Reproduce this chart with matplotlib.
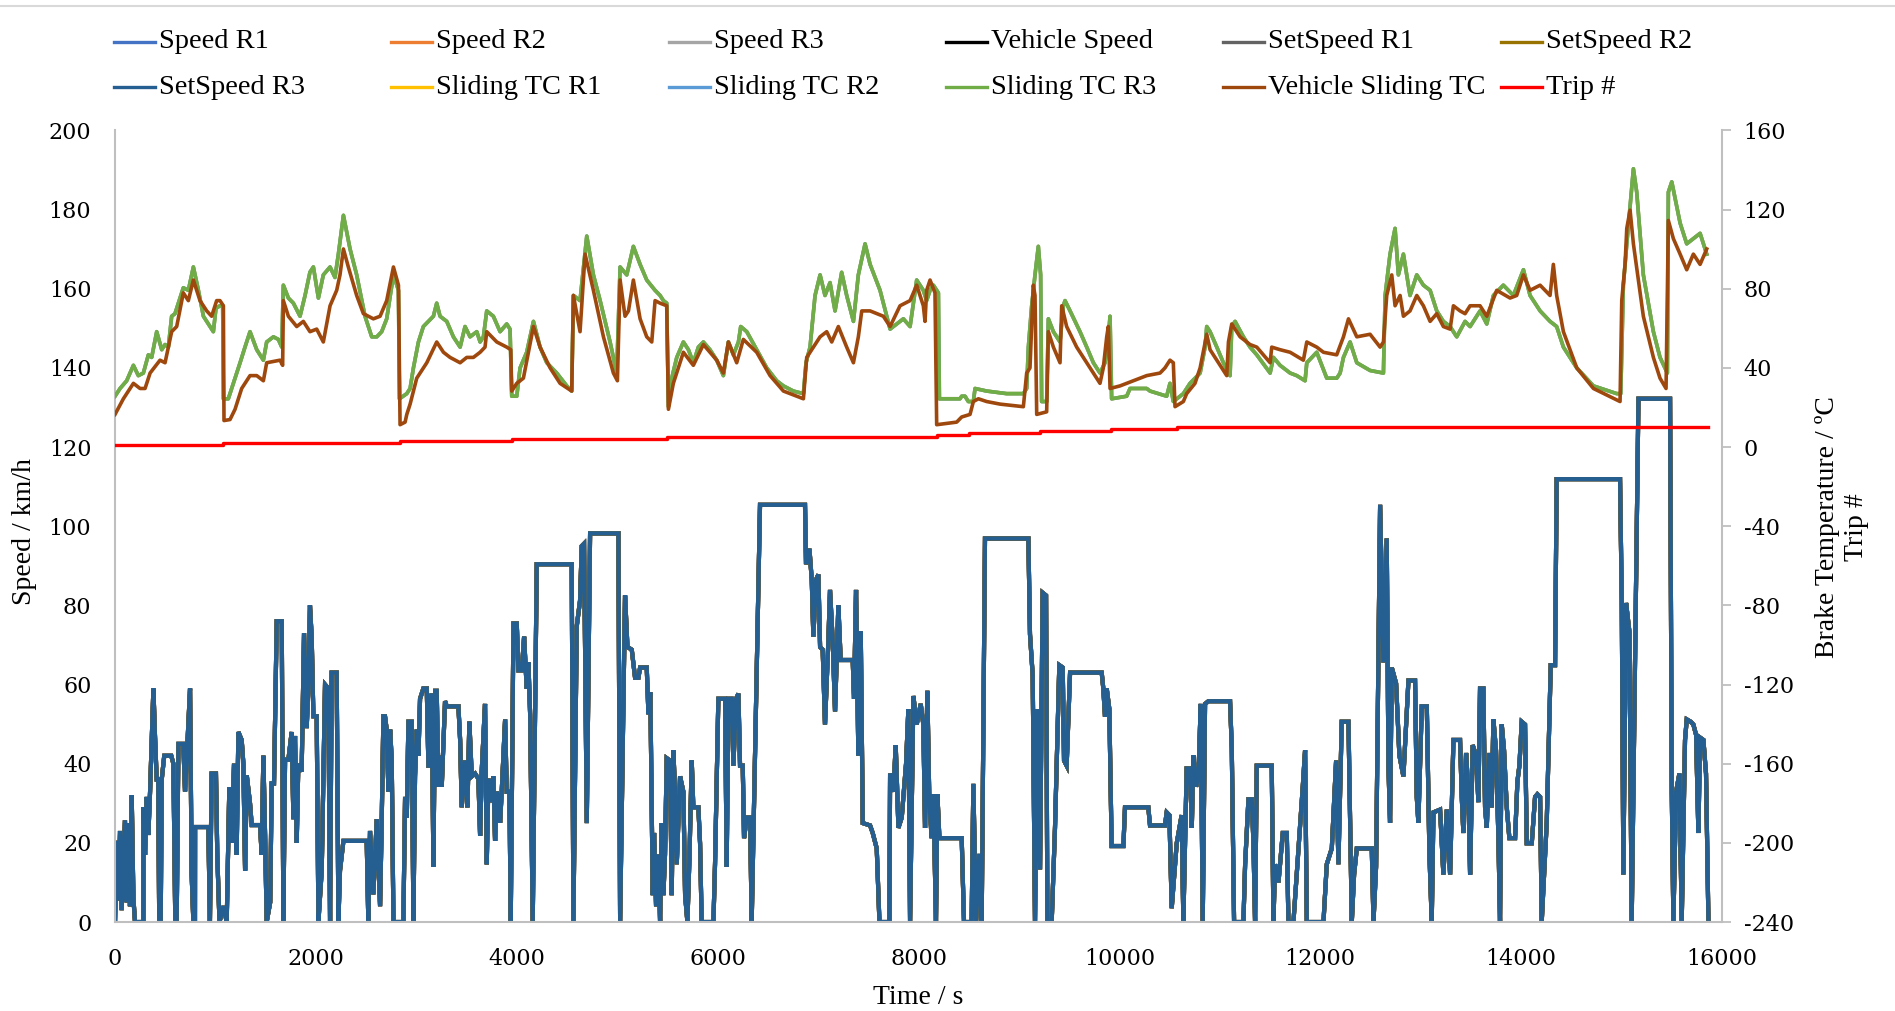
import matplotlib
matplotlib.use('Agg')
import matplotlib.pyplot as plt
from matplotlib.lines import Line2D

plt.rcParams['axes.unicode_minus'] = False

# speed trace (t in s, v in km/h) - all speed / set speed series lie on top of each other
speed_profile = [
    (0, 0), (17, 20.5), (33, 5.5), (50, 23), (66, 3), (99, 25.7), (116, 5), (133, 25), (149, 4), (166, 32),
    (183, 6), (199, 0), (282, 0), (283, 29), (299, 17), (315, 31.6), (332, 22), (349, 33), (382, 59), (398, 47),
    (415, 36), (430, 36), (440, 0), (455, 0), (465, 36), (490, 42), (560, 42), (581, 40), (600, 0), (614, 0),
    (631, 45), (680, 45), (697, 33), (713, 41), (747, 59), (763, 12), (780, 0), (796, 0), (797, 24), (929, 24),
    (945, 0), (962, 37.5), (1005, 37.5), (1018, 17), (1040, 0), (1080, 4), (1112, 0), (1138, 34), (1160, 20),
    (1185, 40), (1211, 17), (1228, 48), (1261, 46), (1278, 40), (1295, 13), (1312, 37), (1344, 30), (1361, 24.5),
    (1444, 24.5), (1460, 17), (1477, 42), (1494, 22), (1510, 0), (1545, 5), (1560, 35), (1583, 35), (1610, 76),
    (1660, 76), (1676, 0), (1693, 41), (1726, 41), (1759, 48), (1776, 26), (1792, 47), (1809, 20), (1825, 40),
    (1858, 38), (1882, 73), (1908, 49), (1925, 59), (1941, 80), (1958, 72), (1975, 52), (2008, 52), (2025, 0),
    (2058, 13), (2091, 60), (2124, 59), (2141, 0), (2157, 63), (2207, 63), (2224, 0), (2240, 13), (2274, 20.5),
    (2506, 20.5), (2522, 0), (2539, 23), (2572, 7), (2606, 26), (2639, 4), (2655, 25), (2672, 52), (2688, 52),
    (2705, 48.6), (2722, 33), (2739, 48.6), (2755, 41), (2772, 0), (2871, 0), (2888, 31.6), (2905, 26.4),
    (2921, 50.6), (2954, 50.6), (2971, 0), (2987, 36.8), (3004, 48.6), (3021, 42), (3037, 56.4), (3070, 59),
    (3104, 59), (3120, 39.5), (3137, 39.5), (3153, 57.7), (3170, 14), (3187, 58.4), (3203, 58.4), (3220, 34.2),
    (3236, 42), (3253, 34.2), (3286, 55.8), (3303, 54.5), (3419, 54.5), (3436, 46), (3452, 29), (3485, 40.8),
    (3509, 29), (3528, 50.6), (3552, 36.8), (3585, 37.5), (3618, 36.2), (3635, 21.8), (3651, 38.1), (3684, 55.1),
    (3701, 14.6), (3718, 36.2), (3734, 30.3), (3767, 36.8), (3784, 20.5), (3801, 32.9), (3817, 31.6), (3834, 25.1),
    (3850, 32.9), (3884, 51.2), (3900, 32.9), (3927, 32.9), (3940, 0), (3967, 75.4), (4000, 75.4), (4016, 63.6),
    (4050, 63.6), (4073, 72.1), (4099, 59), (4116, 65.6), (4133, 52.5), (4159, 0), (4199, 90.4), (4547, 90.4),
    (4564, 0), (4597, 74.7), (4630, 81.2), (4647, 95), (4670, 95.6), (4697, 25), (4730, 98.2), (5012, 98.2),
    (5029, 0), (5078, 82.5), (5102, 69.5), (5145, 68.8), (5178, 61.7), (5211, 61.7), (5228, 64.3), (5294, 64.3),
    (5311, 52.5), (5330, 58), (5354, 6.8), (5367, 22.5), (5387, 4), (5410, 17), (5427, 0), (5443, 25),
    (5460, 6.8), (5476, 17), (5493, 41.4), (5526, 40.8), (5543, 6.8), (5559, 43.4), (5576, 32.9), (5593, 14.6),
    (5626, 36.8), (5659, 32.9), (5676, 6.8), (5699, 0), (5719, 15.9), (5742, 40.8), (5758, 29), (5808, 29),
    (5825, 19.9), (5841, 0), (5958, 0), (5974, 14.6), (6007, 56.4), (6074, 56.4), (6090, 14), (6107, 56.4),
    (6140, 56.4), (6157, 39.5), (6183, 56.4), (6207, 57.7), (6223, 39.5), (6250, 39.5), (6263, 21.2), (6290, 26.4),
    (6323, 26.4), (6339, 0), (6422, 105.4), (6870, 105.4), (6880, 90.4), (6914, 94.3), (6937, 86.5), (6953, 72.1),
    (6980, 86.5), (7003, 87.8), (7020, 69.5), (7046, 68.8), (7069, 49.9), (7103, 71.4), (7119, 83.9), (7146, 70.8),
    (7169, 53.2), (7202, 80), (7225, 66.2), (7345, 66.2), (7358, 56.4), (7378, 83.9), (7401, 42.1), (7425, 73.4),
    (7445, 25), (7518, 24.4), (7544, 22.5), (7584, 18.6), (7611, 0), (7710, 0), (7717, 37.5), (7750, 32.9),
    (7773, 44.7), (7800, 23.8), (7833, 26.4), (7876, 40), (7899, 53.8), (7916, 0), (7949, 57.1), (7982, 49.9),
    (8022, 55.1), (8048, 49.9), (8065, 23.8), (8088, 58.4), (8108, 30.3), (8131, 21.2), (8148, 32.3), (8174, 0),
    (8188, 32.3), (8208, 21.2), (8430, 21.2), (8453, 0), (8529, 0), (8546, 34.9), (8573, 0), (8606, 17.2),
    (8629, 0), (8662, 96.9), (9094, 96.9), (9110, 72.7), (9137, 62.3), (9160, 0), (9183, 53.8), (9210, 13.3),
    (9236, 83.2), (9270, 82.5), (9283, 0), (9326, 0), (9359, 23.8), (9382, 46), (9402, 64.9), (9436, 64.3),
    (9449, 40.8), (9475, 39.5), (9509, 63), (9824, 63), (9840, 59), (9857, 51.9), (9874, 59), (9900, 53.8),
    (9923, 19.2), (10040, 19.2), (10056, 29), (10288, 29), (10305, 24.4), (10454, 24.4), (10471, 27.7),
    (10498, 27), (10521, 3.5), (10571, 19.9), (10620, 27), (10637, 0), (10670, 38.8), (10704, 38.8),
    (10721, 23.8), (10737, 42.1), (10764, 34.2), (10787, 36.8), (10810, 55.1), (10830, 0), (10853, 55.1),
    (10887, 55.8), (11102, 55.8), (11119, 44), (11142, 0), (11235, 0), (11252, 14.6), (11285, 31), (11318, 31),
    (11335, 19.9), (11351, 0), (11368, 39.5), (11517, 39.5), (11534, 0), (11550, 14.6), (11584, 10),
    (11627, 22.5), (11667, 22.5), (11683, 0), (11733, 0), (11826, 34.2), (11849, 43.4), (11866, 0), (12032, 0),
    (12065, 14.6), (12115, 18.6), (12158, 40.8), (12181, 14.6), (12214, 50.6), (12281, 50.6), (12314, 0),
    (12337, 12), (12364, 18.6), (12513, 18.6), (12530, 0), (12556, 14), (12596, 105.4), (12629, 65.6),
    (12662, 96.9), (12679, 39.5), (12695, 25.1), (12712, 64.3), (12755, 60.3), (12788, 42.1), (12828, 36.8),
    (12878, 61), (12944, 61), (12961, 31.6), (12977, 25.1), (13011, 54.5), (13061, 54.5), (13087, 17.2),
    (13110, 0), (13127, 27.7), (13193, 28.4), (13226, 12), (13260, 28.4), (13293, 12), (13326, 46), (13392, 46),
    (13409, 31.6), (13425, 22.5), (13452, 42.7), (13475, 32.9), (13492, 12), (13518, 44.7), (13551, 42.1),
    (13575, 30.3), (13591, 59), (13624, 59), (13641, 29), (13658, 23.8), (13684, 42.7), (13707, 29), (13724, 51.2),
    (13750, 43.4), (13774, 21.2), (13790, 0), (13807, 49.9), (13830, 43.4), (13857, 29), (13883, 21.2),
    (13940, 21.2), (13963, 35.5), (13983, 39.5), (14006, 50.6), (14039, 49.9), (14056, 19.9), (14106, 19.9),
    (14139, 31.6), (14162, 32.3), (14189, 31.6), (14205, 0), (14255, 25.1), (14295, 64.9), (14338, 64.9),
    (14354, 111.9), (14985, 111.9), (15002, 81.2), (15018, 12), (15045, 80.6), (15078, 73.4), (15101, 0),
    (15168, 132.2), (15483, 132.2), (15500, 32.9), (15516, 0), (15543, 32.9), (15576, 37.5), (15599, 0),
    (15632, 46), (15649, 51.2), (15689, 50.6), (15715, 49.9), (15742, 47.3), (15765, 22.5), (15782, 46.6),
    (15815, 46), (15841, 37.5), (15865, 0),
]

# sliding thermocouple, rigs (R1/R2/R3 practically coincide), in degC
sliding_tc_rig = [
    (0, 25.7), (50, 29.6), (116, 33.5), (149, 37.4), (183, 41.3), (232, 36.1), (282, 37.4), (332, 46.6),
    (365, 45.3), (415, 58.3), (465, 49.2), (498, 51.8), (531, 50.5), (564, 66.1), (597, 67.4), (647, 75.3),
    (680, 80.5), (730, 79.2), (780, 91), (830, 79.2), (880, 66.1), (946, 60.9), (979, 58.3), (1005, 70.1),
    (1045, 71.4), (1072, 71.4), (1079, 24.4), (1128, 24.4), (1178, 32.2), (1245, 42.6), (1294, 50.5),
    (1344, 58.3), (1411, 49.2), (1477, 43.9), (1510, 53.1), (1577, 55.7), (1626, 54.4), (1660, 50.5),
    (1676, 81.8), (1726, 75.3), (1776, 72.7), (1842, 66.1), (1892, 76.6), (1941, 88.4), (1975, 91), (2025, 75.3),
    (2074, 87), (2141, 91), (2190, 85.7), (2224, 97.5), (2274, 117.1), (2340, 100.1), (2406, 87), (2489, 66.1),
    (2556, 55.7), (2606, 55.7), (2655, 58.3), (2705, 64.8), (2772, 87), (2822, 79.2), (2832, 24.4), (2905, 27),
    (2938, 29.6), (2971, 40), (3021, 53.1), (3070, 60.9), (3120, 63.5), (3170, 66.1), (3203, 72.7), (3236, 66.1),
    (3303, 63.5), (3369, 55.7), (3436, 50.5), (3485, 60.9), (3535, 55.7), (3602, 58.3), (3635, 53.1),
    (3668, 55.7), (3701, 68.8), (3767, 66.1), (3834, 58.3), (3900, 62.2), (3933, 59.6), (3950, 25.7),
    (4000, 25.7), (4033, 40), (4099, 47.9), (4166, 63.5), (4232, 50.5), (4299, 42.6), (4398, 37.4), (4498, 30.9),
    (4547, 28.3), (4564, 76.6), (4630, 74), (4697, 106.6), (4763, 87), (4830, 74), (4929, 53.1), (4995, 37.4),
    (5029, 91), (5095, 87), (5161, 101.4), (5228, 92.3), (5294, 84.4), (5377, 79.2), (5427, 76.6), (5460, 74),
    (5493, 72.7), (5510, 20.4), (5543, 34.8), (5593, 45.3), (5659, 53.1), (5709, 49.2), (5758, 42.6),
    (5808, 50.5), (5858, 53.1), (5924, 49.2), (5991, 43.9), (6057, 36.1), (6107, 53.1), (6157, 46.6),
    (6207, 53.1), (6230, 60.9), (6290, 58.3), (6389, 49.2), (6489, 40), (6588, 33.5), (6655, 30.9), (6754, 28.3),
    (6854, 27), (6880, 42.6), (6920, 50.5), (6970, 76.6), (7020, 87), (7069, 76.6), (7119, 83.1), (7169, 68.8),
    (7235, 88.3), (7285, 76.6), (7352, 63.5), (7401, 87), (7468, 102.7), (7518, 92.3), (7617, 79.2),
    (7717, 59.6), (7783, 62.2), (7849, 64.8), (7916, 60.9), (7982, 84.4), (8048, 79.2), (8081, 74),
    (8115, 79.2), (8148, 81.8), (8198, 77.9), (8208, 24.4), (8413, 24.4), (8430, 25.7), (8463, 25.7),
    (8496, 23), (8546, 23), (8563, 29.6), (8679, 28.3), (8878, 27), (9044, 27), (9077, 29.6), (9094, 50.5),
    (9127, 71.4), (9160, 87), (9193, 101.4), (9216, 87), (9226, 23), (9276, 23), (9293, 64.8), (9343, 58.3),
    (9409, 53.1), (9442, 71.4), (9459, 74), (9509, 68.8), (9608, 58.3), (9675, 50.5), (9741, 42.6),
    (9807, 37.4), (9857, 42.6), (9890, 55.7), (9907, 66.1), (9923, 24.4), (10073, 25.7), (10106, 29.6),
    (10272, 29.6), (10305, 28.3), (10471, 25.7), (10504, 32.2), (10537, 23), (10637, 27), (10703, 32.2),
    (10753, 34.8), (10804, 37.4), (10853, 50.5), (10870, 60.9), (10903, 58.3), (10970, 50.5), (11036, 42.6),
    (11086, 37.4), (11102, 36.1), (11119, 60.9), (11152, 63.5), (11235, 55.7), (11301, 50.5), (11368, 46.6),
    (11501, 37.4), (11534, 45.3), (11600, 41.3), (11700, 37.4), (11766, 36.1), (11849, 33.5), (11866, 42.6),
    (11965, 47.9), (12065, 34.8), (12164, 34.8), (12198, 37.4), (12231, 45.3), (12297, 53.1), (12364, 42.6),
    (12496, 38.7), (12629, 37.4), (12646, 76.6), (12695, 97.5), (12745, 110.5), (12778, 87), (12828, 97.5),
    (12894, 76.6), (12961, 87), (13027, 81.8), (13094, 79.2), (13160, 68.8), (13226, 63.5), (13293, 60.9),
    (13359, 55.7), (13442, 63.5), (13492, 60.9), (13591, 68.8), (13658, 62.2), (13724, 76.6), (13823, 81.8),
    (13923, 76.6), (14023, 89.6), (14089, 76.6), (14189, 68.8), (14288, 63.5), (14354, 60.9), (14421, 50.5),
    (14554, 40), (14720, 30.9), (14952, 27), (14992, 27), (15018, 81.8), (15052, 102.7), (15118, 140.6),
    (15151, 128.8), (15217, 87), (15317, 58.3), (15383, 45.3), (15456, 37.4), (15466, 128.8), (15500, 134),
    (15583, 113.2), (15649, 102.7), (15715, 105.3), (15782, 108), (15848, 97.5),
]

vehicle_sliding_tc = [
    (0, 16.5), (83, 24.4), (183, 32.2), (249, 29.6), (299, 29.6), (349, 37.4), (448, 43.9), (498, 42.6),
    (564, 58.3), (614, 60.9), (680, 77.9), (730, 74), (780, 84.4), (846, 74), (913, 68.8), (962, 66.1),
    (1012, 74), (1045, 74), (1079, 71.4), (1085, 13.4), (1145, 13.9), (1195, 19.1), (1261, 29.6), (1344, 36.1),
    (1411, 36.1), (1477, 33.5), (1510, 42.6), (1643, 43.9), (1669, 41.3), (1676, 74), (1726, 66.1),
    (1809, 60.9), (1875, 63.5), (1941, 58.3), (2008, 59.6), (2074, 53.1), (2141, 71.4), (2207, 79.2), (2240, 87),
    (2274, 100.1), (2323, 91), (2406, 76.6), (2473, 67.4), (2572, 64.8), (2639, 66.1), (2705, 74), (2772, 91),
    (2822, 81.8), (2838, 11.3), (2888, 12.6), (2905, 16.5), (2938, 21.7), (3004, 34.8), (3104, 42.6),
    (3203, 53.1), (3270, 47.9), (3336, 45.3), (3436, 42.6), (3502, 45.3), (3568, 45.3), (3635, 47.9),
    (3684, 50.5), (3701, 58.3), (3801, 53.1), (3900, 50.5), (3940, 49.2), (3950, 28.3), (4000, 32.2),
    (4066, 34.8), (4166, 60.9), (4232, 50.5), (4332, 40), (4431, 32.2), (4547, 28.3), (4564, 76.6), (4630, 58.3),
    (4680, 97.5), (4763, 79.2), (4863, 55.7), (4962, 37.4), (5002, 33.5), (5029, 84.4), (5078, 66.1),
    (5112, 68.8), (5161, 84.4), (5228, 64.8), (5294, 55.7), (5344, 53.1), (5377, 74), (5427, 72.7),
    (5493, 71.4), (5510, 19.1), (5559, 32.2), (5626, 42.6), (5659, 47.9), (5758, 41.3), (5858, 51.8),
    (5991, 43.9), (6057, 37.4), (6107, 53.1), (6190, 42.6), (6256, 54.4), (6389, 47.9), (6522, 36.1),
    (6655, 28.3), (6854, 24.4), (6887, 45.3), (6953, 50.5), (7020, 55.7), (7086, 58.3), (7136, 53.1),
    (7202, 60.9), (7285, 50.5), (7352, 42.6), (7401, 55.7), (7435, 68.8), (7518, 68.8), (7650, 66.1),
    (7717, 60.9), (7816, 71.4), (7916, 74), (7982, 81.8), (8048, 71.4), (8065, 63.5), (8081, 79.2),
    (8115, 84.4), (8164, 77.9), (8181, 11.3), (8380, 12.6), (8430, 15.2), (8513, 16.5), (8546, 23),
    (8596, 24.4), (8679, 23), (8812, 21.7), (9044, 20.4), (9077, 37.4), (9110, 40), (9143, 81.8), (9160, 76.6),
    (9177, 16.5), (9276, 17.8), (9293, 58.3), (9343, 50.5), (9409, 42.6), (9426, 71.4), (9475, 60.9),
    (9575, 50.5), (9675, 42.6), (9807, 32.2), (9840, 40), (9874, 55.7), (9890, 60.9), (9907, 29.6),
    (10006, 30.9), (10139, 33.5), (10272, 36.1), (10405, 37.4), (10454, 40), (10504, 43.9), (10537, 42.6),
    (10554, 20.4), (10637, 23), (10670, 27), (10753, 32.2), (10804, 40), (10870, 57), (10903, 49.2),
    (11003, 41.3), (11069, 36.1), (11086, 53.1), (11119, 62.2), (11202, 55.7), (11301, 51.8), (11368, 50.5),
    (11501, 42.6), (11517, 50.5), (11600, 49.2), (11700, 47.9), (11832, 43.9), (11866, 53.1), (11965, 50.5),
    (12032, 47.9), (12164, 46.6), (12231, 55.7), (12281, 64.8), (12364, 55.7), (12496, 57), (12596, 50.5),
    (12629, 53.1), (12662, 76.6), (12712, 87), (12745, 71.4), (12795, 76.6), (12828, 66.1), (12894, 68.8),
    (12961, 76.6), (13027, 71.4), (13094, 63.5), (13160, 67.4), (13226, 60.9), (13293, 59.6), (13326, 71.4),
    (13392, 68.8), (13442, 67.4), (13492, 71.4), (13591, 71.4), (13658, 66.1), (13757, 79.2), (13890, 75.3),
    (13956, 76.6), (14023, 87), (14089, 79.2), (14189, 81.8), (14288, 76.6), (14321, 92.3), (14354, 76.6),
    (14421, 58.3), (14554, 40), (14720, 29.6), (14985, 23), (15002, 74), (15035, 92.3), (15052, 110.5),
    (15085, 119.7), (15118, 102.7), (15217, 66.1), (15317, 45.3), (15383, 34.8), (15443, 29.6), (15466, 114.5),
    (15516, 105.3), (15583, 97.5), (15649, 89.6), (15715, 97.5), (15782, 92.3), (15848, 100.1),
]

trip_start = [0, 1079, 2838, 3950, 5500, 8181, 8506, 9210, 9913, 10571, 15865]
trip_no = [1, 2, 3, 4, 5, 6, 7, 8, 9, 10, 10]

speed_labels = ['Speed R1', 'Speed R2', 'Speed R3', 'Vehicle Speed', 'SetSpeed R1', 'SetSpeed R2', 'SetSpeed R3']
speed_colors = ['#4472C4', '#ED7D31', '#A5A5A5', '#000000', '#636363', '#997300', '#255E91']
temp_labels = ['Sliding TC R1', 'Sliding TC R2', 'Sliding TC R3', 'Vehicle Sliding TC']
temp_colors = ['#FFC000', '#5B9BD5', '#70AD47', '#9E480E']

serif = 'Liberation Serif'
tick_family = 'DejaVu Serif'
tick_size = 16

fig = plt.figure(figsize=(18.95, 10.11), dpi=100)
ax = fig.add_axes([0.0607, 0.088, 0.848, 0.783])
ax2 = ax.twinx()

t_speed = [p[0] for p in speed_profile]
v_speed = [p[1] for p in speed_profile]
for lab, col in zip(speed_labels, speed_colors):
    ax.plot(t_speed, v_speed, color=col, lw=3.0, solid_joinstyle='miter')

temp_series = [sliding_tc_rig, sliding_tc_rig, sliding_tc_rig, vehicle_sliding_tc]
for data, col in zip(temp_series, temp_colors):
    ax2.plot([p[0] for p in data], [p[1] for p in data], color=col, lw=2.6)
ax2.plot(trip_start, trip_no, color='#FF0000', lw=2.4, drawstyle='steps-post')

ax.set_xlim(0, 16000)
ax.set_ylim(0, 200)
ax2.set_ylim(-240, 160)
ax.set_xticks(range(0, 16001, 2000))
ax.set_yticks(range(0, 201, 20))
ax2.set_yticks(range(-240, 161, 40))

for a in (ax, ax2):
    for s in a.spines.values():
        s.set_visible(False)
    a.set_facecolor('none')
ax.spines['left'].set_visible(True)
ax.spines['bottom'].set_visible(True)
ax2.spines['right'].set_visible(True)
for s in (ax.spines['left'], ax.spines['bottom'], ax2.spines['right']):
    s.set_color('#BFBFBF')
    s.set_linewidth(1.5)

ax.tick_params(axis='y', length=0, pad=17)
ax.tick_params(axis='x', length=0, pad=19)
ax2.tick_params(axis='y', length=6.5, width=1.3, color='#BFBFBF', direction='out', pad=9)
for lbl in ax.get_xticklabels() + ax.get_yticklabels() + ax2.get_yticklabels():
    lbl.set_fontfamily(tick_family)
    lbl.set_fontsize(tick_size)

fig.text(0.4847, 0.0138, 'Time / s', family=serif, fontsize=20, ha='center', va='center')
fig.text(0.0127, 0.474, 'Speed / km/h', family=serif, fontsize=20, ha='center', va='center', rotation=90)
fig.text(0.972, 0.479, 'Brake Temperature / ºC\nTrip #', family=serif, fontsize=20,
         ha='center', va='center', rotation=90, multialignment='center', linespacing=1.25)

# legend laid out like the spreadsheet one: two rows of six
legend_labels = speed_labels + temp_labels + ['Trip #']
legend_colors = speed_colors + temp_colors + ['#FF0000']
for i, (lab, col) in enumerate(zip(legend_labels, legend_colors)):
    row, c = divmod(i, 6)
    x0 = (114 + c * 277.3) / 1895
    y0 = 1 - (42 + row * 45) / 1011
    fig.add_artist(Line2D([x0, x0 + 41 / 1895], [y0, y0], color=col, lw=2.4, transform=fig.transFigure))
    fig.text(x0 + 45 / 1895, y0, lab, family=serif, fontsize=20.5, ha='left', va='center')

# thin grey border line at the very top
fig.add_artist(Line2D([0, 1], [1 - 6 / 1011, 1 - 6 / 1011], color='#D9D9D9', lw=1.5, transform=fig.transFigure))

plt.savefig('out.png', dpi=100)
